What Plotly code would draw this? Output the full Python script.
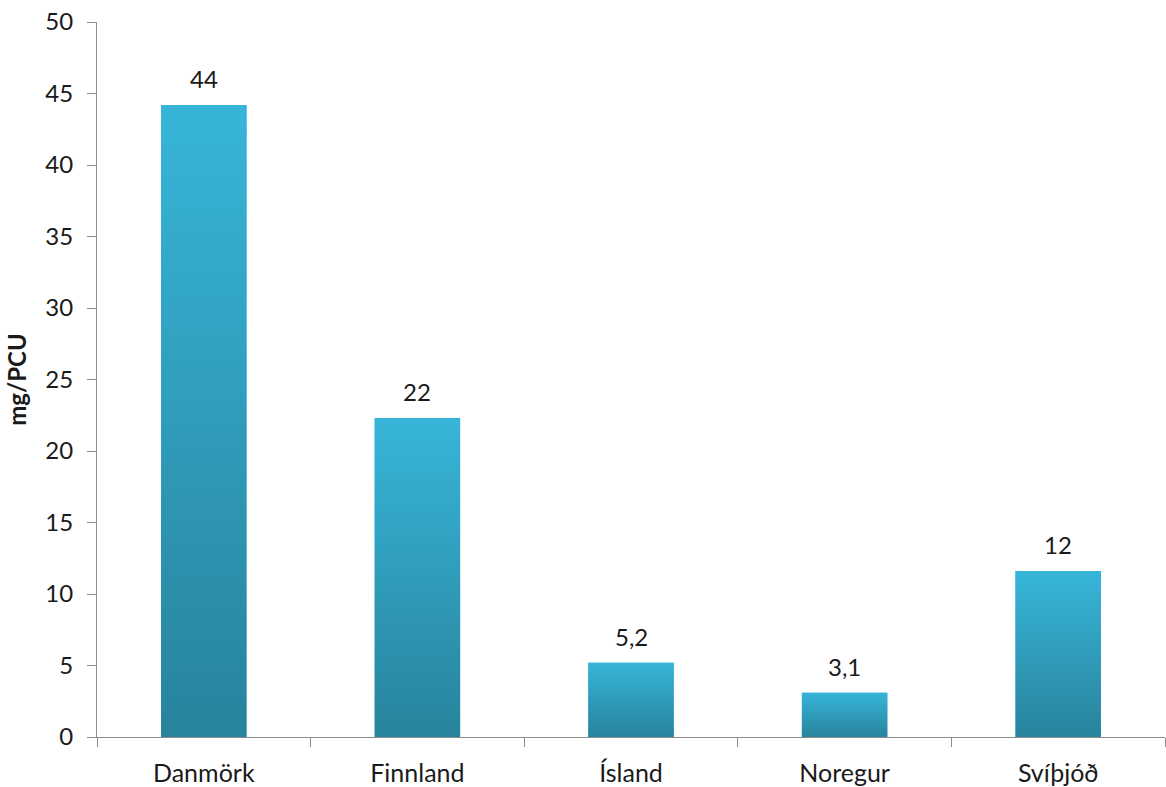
import plotly.graph_objects as go

# Data
countries = ["Danmörk", "Finnland", "Ísland", "Noregur", "Svíþjóð"]
values = [44.2, 22.3, 5.2, 3.1, 11.6]
y_ticks = [0, 5, 10, 15, 20, 25, 30, 35, 40, 45, 50]

BAR_WIDTH = 0.40
TOP_COLOR = "rgb(55,181,217)"
BOTTOM_COLOR = "rgb(40,131,156)"
AXIS_COLOR = "#8c8c8c"
TEXT_COLOR = "#1a1a1a"
FONT = "Lato, 'Open Sans', sans-serif"

positions = list(range(len(countries)))

fig = go.Figure()

# Base bars
fig.add_trace(go.Bar(
    x=positions, y=values, width=BAR_WIDTH,
    marker=dict(color=TOP_COLOR, line=dict(width=0)),
    hoverinfo="skip", showlegend=False,
))

# Vertical gradient fill laid over each bar
for pos, val in zip(positions, values):
    fig.add_trace(go.Scatter(
        x=[pos - BAR_WIDTH / 2, pos + BAR_WIDTH / 2], y=[val, val],
        mode="lines", line=dict(width=0), fill="tozeroy",
        fillgradient=dict(type="vertical", start=0, stop=val,
                          colorscale=[[0, BOTTOM_COLOR], [1, TOP_COLOR]]),
        hoverinfo="skip", showlegend=False,
    ))

# Value labels above bars (two significant figures, decimal comma)
for pos, val in zip(positions, values):
    fig.add_annotation(
        x=pos, y=val, text=f"{val:.2g}".replace(".", ","),
        showarrow=False, yanchor="bottom", yshift=10,
        font=dict(family=FONT, size=24, color=TEXT_COLOR),
    )

fig.update_layout(
    width=1166, height=787,
    margin=dict(l=97, r=1, t=22, b=50),
    paper_bgcolor="white", plot_bgcolor="white",
    font=dict(family=FONT, size=24, color=TEXT_COLOR),
    showlegend=False,
    xaxis=dict(
        range=[-0.5, len(countries) - 0.5],
        tickmode="array", tickvals=positions, ticktext=countries,
        ticks="", showgrid=False, zeroline=False,
        showline=True, linecolor=AXIS_COLOR, linewidth=1,
        minor=dict(tickmode="array",
                   tickvals=[p - 0.5 for p in positions] + [len(countries) - 0.5],
                   ticks="outside", ticklen=9, tickcolor=AXIS_COLOR, showgrid=False),
        tickfont=dict(size=25),
        ticklabelstandoff=14,
    ),
    yaxis=dict(
        range=[0, 50], tickmode="array", tickvals=y_ticks,
        ticks="outside", ticklen=9, tickcolor=AXIS_COLOR,
        showgrid=False, zeroline=False,
        showline=True, linecolor=AXIS_COLOR, linewidth=1,
        tickfont=dict(size=24),
        ticklabelstandoff=9,
        title=dict(text="<b>mg/PCU</b>", font=dict(size=24), standoff=11),
    ),
)

fig.write_html("out.html")
